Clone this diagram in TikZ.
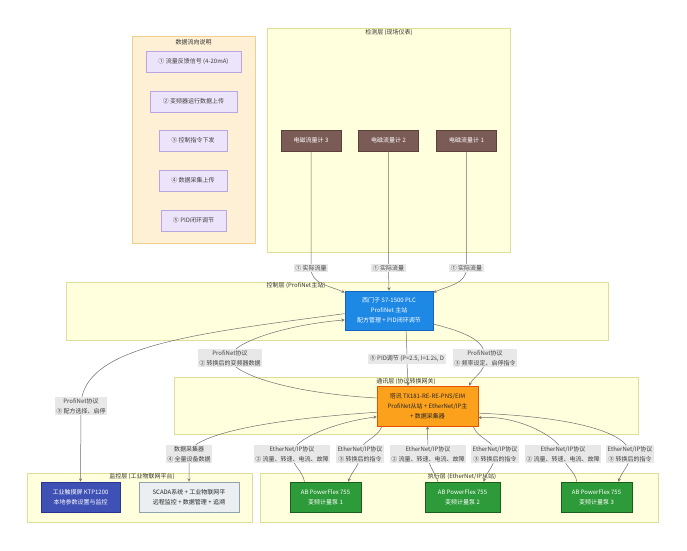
\documentclass[tikz,border=0pt]{standalone}
\usepackage{fontspec}
\setmainfont{Noto Sans CJK SC}
\usepackage{tikz}
\usetikzlibrary{arrows,backgrounds,calc}
\definecolor{layerfill}{HTML}{FFFFDE}
\definecolor{layerline}{HTML}{DEDE9A}
\definecolor{notefill}{HTML}{FDF0D5}
\definecolor{noteline}{HTML}{F2CF8A}
\definecolor{itemfill}{HTML}{ECE4FA}
\definecolor{itemline}{HTML}{B9A5E3}
\definecolor{meterfill}{HTML}{7B5B56}
\definecolor{meterline}{HTML}{5D4037}
\definecolor{plcfill}{HTML}{1E88E5}
\definecolor{plcline}{HTML}{1565C0}
\definecolor{gwfill}{HTML}{FBA11C}
\definecolor{gwline}{HTML}{E65100}
\definecolor{hmifill}{HTML}{3F51B5}
\definecolor{hmiline}{HTML}{283593}
\definecolor{scadafill}{HTML}{ECEFF1}
\definecolor{scadaline}{HTML}{90A4AE}
\definecolor{vfdfill}{HTML}{2E9B3B}
\definecolor{vfdline}{HTML}{1B5E20}
\definecolor{edgecol}{HTML}{6E6E6E}
\definecolor{lblfill}{HTML}{E8E8E8}
\tikzset{
  txt/.style={font=\fontsize{6}{10}\selectfont},
  layer/.style={draw=layerline, fill=layerfill, line width=0.5pt},
  layertitle/.style={txt, text=black!80, inner sep=0pt},
  box/.style={txt, align=center, inner sep=0pt, line width=0.6pt},
  legitem/.style={box, draw=itemline, fill=itemfill, text=black!75, minimum height=21},
  meter/.style={box, draw=meterline, fill=meterfill, text=white, minimum width=60, minimum height=21},
  vfd/.style={box, draw=vfdline, fill=vfdfill, text=white, minimum height=30},
  flow/.style={draw=edgecol, line width=0.5pt, -stealth},
  lbl/.style={txt, fill=lblfill, text=black!75, align=center, inner sep=1.5pt}
}
\begin{document}
\begin{tikzpicture}[x=1pt, y=-1pt]
\useasboundingbox (0,0) rectangle (687,550);
\fill[white] (0,0) rectangle (687,550);

% layers
\draw[draw=noteline, fill=notefill, line width=0.5pt] (132,36) rectangle (255,243);
\node[layertitle] (tnote) at (193.5,42) {数据流向说明};
\draw[layer] (267,28) rectangle (510,252);
\node[layertitle] (tdet) at (389,33) {检测层 (现场仪表)};
\draw[layer] (66,282) rectangle (608,340);
\node[layertitle] (tctl) at (296,286) {控制层 (ProfiNet主站)};
\draw[layer] (174,377) rectangle (638,434);
\node[layertitle] (tcom) at (406,382) {通讯层 (协议转换网关)};
\draw[layer] (27,473) rectangle (252,522);
\node[layertitle] (tmon) at (142,477) {监控层 (工业物联网平台)};
\draw[layer] (260,473) rectangle (658,522);
\node[layertitle] (texe) at (462,477) {执行层 (EtherNet/IP从站)};

% legend
\node[legitem, minimum width=95] (k1) at (193.5,61.5) {① 流量反馈信号 (4-20mA)};
\node[legitem, minimum width=87] (k2) at (193.5,101.5) {② 变频器运行数据上传};
\node[legitem, minimum width=68] (k3) at (193,140.5) {③ 控制指令下发};
\node[legitem, minimum width=68] (k4) at (193,180.5) {④ 数据采集上传};
\node[legitem, minimum width=65] (k5) at (193.5,220.5) {⑤ PID闭环调节};

% nodes
\node[meter] (m3) at (311,140.5) {电磁流量计 3};
\node[meter] (m2) at (388.5,140.5) {电磁流量计 2};
\node[meter] (m1) at (466.5,140.5) {电磁流量计 1};
\node[box, draw=plcline, fill=plcfill, text=white, minimum width=88, minimum height=39] (plc) at (389,310.5)
  {西门子 S7-1500 PLC\\ProfiNet 主站\\配方管理 + PID闭环调节};
\node[box, draw=gwline, fill=gwfill, text=black!85, minimum width=101, minimum height=40] (gw) at (427.5,406)
  {塔讯 TX181-RE-RE-PNS/EIM\\ProfiNet从站 + EtherNet/IP主\\+ 数据采集器};
\node[box, draw=hmiline, fill=hmifill, text=white, minimum width=79, minimum height=30] (hmi) at (80.5,497)
  {工业触摸屏 KTP1200\\本地参数设置与监控};
\node[box, draw=scadaline, fill=scadafill, text=black!85, minimum width=100, minimum height=30] (scada) at (189,497)
  {SCADA系统 + 工业物联网平\\远程监控 + 数据管理 + 追溯};
\node[vfd, minimum width=71] (v1) at (325.5,497) {AB PowerFlex 755\\变频计量泵 1};
\node[vfd, minimum width=75] (v2) at (462.5,497) {AB PowerFlex 755\\变频计量泵 2};
\node[vfd, minimum width=71] (v3) at (596.5,497) {AB PowerFlex 755\\变频计量泵 3};

% label points
\coordinate (c13) at (311,268);
\coordinate (c12) at (388.5,268);
\coordinate (c11) at (466.5,268);
\coordinate (chmi) at (81,406);
\coordinate (cpd) at (230,358);
\coordinate (cpid) at (407,359);
\coordinate (cfreq) at (485,358);
\coordinate (cdaq) at (189,454);
\coordinate (cv1u) at (292,454);
\coordinate (cv1d) at (360,454);
\coordinate (cv2u) at (428,454);
\coordinate (cv2d) at (495,454);
\coordinate (cv3u) at (563,454);
\coordinate (cv3d) at (630,454);

% connectors
\draw[flow] (m3.south) -- (c13) to[out=-90,in=155] (plc.158);
\draw[flow] (m2.south) -- (c12) -- (plc.north);
\draw[flow] (m1.south) -- (c11) to[out=-90,in=25] (plc.22);
\draw[flow] (plc.184) .. controls +(-150,20) and +(0,-60) .. (chmi) -- (hmi.north);
\draw[flow] (gw.171) .. controls +(-90,-5) and +(0,15) .. (cpd) .. controls +(0,-15) and +(-60,5) .. (plc.192);
\draw[flow] (plc.-49) to[out=-90,in=90] (cpid) to[out=-90,in=90] (gw.134);
\draw[flow] (plc.-17) .. controls +(40,10) and +(0,-15) .. (cfreq) .. controls +(0,15) and +(5,-10) .. (gw.26);
\draw[flow] (gw.187) .. controls +(-150,10) and +(0,-12) .. (cdaq) -- (scada.north);
\draw[flow] (v1.144) to[out=100,in=-90] (cv1u) .. controls +(0,-15) and +(-40,5) .. (gw.192);
\draw[flow] (gw.204) to[out=-110,in=90] (cv1d) to[out=-90,in=70] (v1.34);
\draw[flow] (v2.148) to[out=110,in=-90] (cv2u) -- (gw.south);
\draw[flow] (gw.-24) to[out=-70,in=90] (cv2d) to[out=-90,in=70] (v2.36);
\draw[flow] (v3.142) to[out=100,in=-90] (cv3u) .. controls +(0,-15) and +(40,-3) .. (gw.-13);
\draw[flow] (gw.-8) .. controls +(120,5) and +(0,-15) .. (cv3d) to[out=-90,in=70] (v3.35);

% labels
\node[lbl] (l13) at (c13) {① 实际流量};
\node[lbl] (l12) at (c12) {① 实际流量};
\node[lbl] (l11) at (c11) {① 实际流量};
\node[lbl] (lhmi) at (chmi) {ProfiNet协议\\③ 配方选择、启停};
\node[lbl] (lpd) at (cpd) {ProfiNet协议\\② 转换后的变频器数据};
\node[lbl] (lpid) at (cpid) {⑤ PID调节 (P=2.5, I=1.2s, D};
\node[lbl] (lfreq) at (cfreq) {ProfiNet协议\\③ 频率设定、启停指令};
\node[lbl] (ldaq) at (cdaq) {数据采集器\\④ 全量设备数据};
\node[lbl] (lv1u) at (cv1u) {EtherNet/IP协议\\② 流量、转速、电流、故障};
\node[lbl] (lv1d) at (cv1d) {EtherNet/IP协议\\③ 转换后的指令};
\node[lbl] (lv2u) at (cv2u) {EtherNet/IP协议\\② 流量、转速、电流、故障};
\node[lbl] (lv2d) at (cv2d) {EtherNet/IP协议\\③ 转换后的指令};
\node[lbl] (lv3u) at (cv3u) {EtherNet/IP协议\\② 流量、转速、电流、故障};
\node[lbl] (lv3d) at (cv3d) {EtherNet/IP协议\\③ 转换后的指令};
\end{tikzpicture}
\end{document}
